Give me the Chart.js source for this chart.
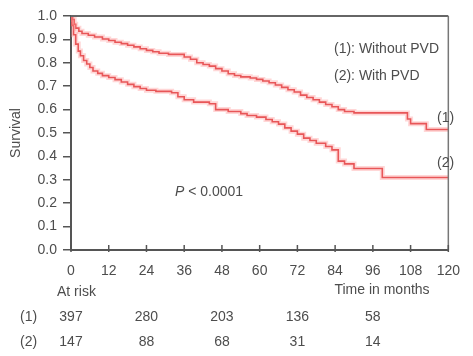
<!DOCTYPE html>
<html lang="en">
  <head>
    <meta charset="UTF-8">
    <title>Survival by PVD</title>
    <script src="https://cdn.jsdelivr.net/npm/chart.js"></script>
    <style>
      html, body {
        margin: 0;
        padding: 0;
        background: #fff;
      }
      #wrap {
        width: 473px;
        height: 356px;
      }
    </style>
  </head>
  <body>
    <div id="wrap">
      <canvas id="kmChart" width="473" height="356"></canvas>
    </div>
    <script>
      // Kaplan-Meier curves (months, survival)
      const months1 = [0, 0.5, 1, 1.5, 2.5, 3.5, 5.5, 7.5, 10, 12, 14, 16, 18, 20, 22, 24, 26, 28, 31, 36, 38, 40, 42, 44, 46, 48, 50, 52, 54, 57, 59, 61, 63, 65, 67, 69, 71, 73, 75, 77, 79, 81, 83, 85, 87, 90, 107, 108, 113, 120];
      const survival1 = [1.0, 0.985, 0.965, 0.948, 0.935, 0.925, 0.918, 0.91, 0.902, 0.895, 0.888, 0.882, 0.875, 0.868, 0.86, 0.853, 0.847, 0.841, 0.836, 0.825, 0.815, 0.8, 0.793, 0.786, 0.775, 0.765, 0.753, 0.746, 0.74, 0.735, 0.729, 0.722, 0.715, 0.705, 0.695, 0.685, 0.675, 0.662, 0.652, 0.642, 0.632, 0.622, 0.612, 0.6, 0.592, 0.586, 0.56, 0.54, 0.515, 0.515];

      const months2 = [0, 0.3, 0.8, 1.5, 2.3, 3, 4, 5, 6, 7, 8.5, 10, 12, 14, 16, 18, 20, 22, 24, 27, 32, 34, 36, 39, 44, 46, 50, 54, 56, 59, 62, 64, 66, 68, 70, 72, 74, 76, 78, 81, 83, 85, 87, 90, 99, 120];
      const survival2 = [1.0, 0.96, 0.92, 0.88, 0.85, 0.83, 0.81, 0.795, 0.78, 0.765, 0.755, 0.745, 0.737, 0.728, 0.718, 0.708, 0.698, 0.69, 0.683, 0.678, 0.672, 0.655, 0.642, 0.632, 0.625, 0.6, 0.592, 0.583, 0.575, 0.568, 0.558, 0.548, 0.538, 0.522, 0.508, 0.495, 0.478, 0.468, 0.456, 0.442, 0.428, 0.38, 0.368, 0.348, 0.31, 0.31];

      // numbers at risk
      const riskMonths = [0, 24, 48, 72, 96];
      const atRisk1 = [397, 280, 203, 136, 58];
      const atRisk2 = [147, 88, 68, 31, 14];

      const xTicks = [0, 12, 24, 36, 48, 60, 72, 84, 96, 108, 120];

      const textColor = '#4d4d4d';
      const axisColor = '#555';
      const lineRed = '#dc3a3d';
      const glowRed = 'rgba(255, 140, 140, 0.35)';

      function toPoints(xs, ys) {
        return xs.map((x, i) => ({ x: x, y: ys[i] }));
      }

      // text, borders and the inward x ticks
      const extrasPlugin = {
        id: 'extras',
        afterDraw(chart) {
          const ctx = chart.ctx;
          const area = chart.chartArea;
          const xs = chart.scales.x;
          ctx.save();

          // top and right frame
          ctx.strokeStyle = '#666';
          ctx.lineWidth = 2;
          ctx.beginPath();
          ctx.moveTo(area.left, area.top);
          ctx.lineTo(area.right, area.top);
          ctx.stroke();
          ctx.lineWidth = 1.5;
          ctx.strokeStyle = '#777';
          ctx.beginPath();
          ctx.moveTo(area.right, area.top);
          ctx.lineTo(area.right, area.bottom);
          ctx.stroke();

          // x ticks pointing up into the plot
          ctx.strokeStyle = axisColor;
          ctx.lineWidth = 1.5;
          xTicks.forEach(t => {
            const px = xs.getPixelForValue(t);
            ctx.beginPath();
            ctx.moveTo(px, area.bottom - 5);
            ctx.lineTo(px, area.bottom + 2);
            ctx.stroke();
          });

          ctx.fillStyle = textColor;
          ctx.textBaseline = 'middle';

          // y axis title
          ctx.save();
          ctx.translate(16, 133);
          ctx.rotate(-Math.PI / 2);
          ctx.textAlign = 'center';
          ctx.font = '14px "Liberation Sans", Arial, sans-serif';
          ctx.fillText('Survival', 0, 0);
          ctx.restore();

          ctx.font = '14px "Liberation Sans", Arial, sans-serif';
          ctx.textAlign = 'left';
          ctx.fillText('(1): Without PVD', 334, 49);
          ctx.fillText('(2): With PVD', 334, 76);
          ctx.fillText('(1)', 437, 118);
          ctx.fillText('(2)', 437, 163);
          ctx.fillText('At risk', 57, 292);
          ctx.fillText('(1)', 20, 317);
          ctx.fillText('(2)', 20, 342);
          ctx.textAlign = 'center';
          ctx.fillText('Time in months', 382, 290);

          // P value with italic P
          ctx.textAlign = 'left';
          ctx.font = 'italic 14px "Liberation Sans", Arial, sans-serif';
          ctx.fillText('P', 175, 192);
          const pw = ctx.measureText('P').width;
          ctx.font = '14px "Liberation Sans", Arial, sans-serif';
          ctx.fillText(' < 0.0001', 175 + pw, 192);

          // numbers at risk under the ticks
          ctx.textAlign = 'center';
          riskMonths.forEach((m, i) => {
            const px = xs.getPixelForValue(m);
            ctx.fillText(String(atRisk1[i]), px, 317);
            ctx.fillText(String(atRisk2[i]), px, 342);
          });

          ctx.restore();
        }
      };

      const ctx = document.getElementById('kmChart').getContext('2d');
      const kmChart = new Chart(ctx, {
        type: 'line',
        data: {
          datasets: [
            {
              // soft halo under curve 1
              data: toPoints(months1, survival1),
              borderColor: glowRed,
              borderWidth: 5,
              stepped: true,
              pointRadius: 0,
              fill: false
            },
            {
              data: toPoints(months2, survival2),
              borderColor: glowRed,
              borderWidth: 5,
              stepped: true,
              pointRadius: 0,
              fill: false
            },
            {
              label: '(1): Without PVD',
              data: toPoints(months1, survival1),
              borderColor: lineRed,
              borderWidth: 1.6,
              stepped: true,
              pointRadius: 0,
              fill: false
            },
            {
              label: '(2): With PVD',
              data: toPoints(months2, survival2),
              borderColor: lineRed,
              borderWidth: 1.6,
              stepped: true,
              pointRadius: 0,
              fill: false
            }
          ]
        },
        options: {
          responsive: false,
          animation: false,
          layout: {
            padding: { left: 0, top: 16, right: 15, bottom: 0 }
          },
          plugins: {
            legend: { display: false },
            tooltip: { enabled: false }
          },
          scales: {
            x: {
              type: 'linear',
              min: 0,
              max: 120,
              afterFit: scale => { scale.height = 106; },
              afterBuildTicks: scale => {
                scale.ticks = xTicks.map(v => ({ value: v }));
              },
              grid: { drawOnChartArea: false, drawTicks: false },
              border: { display: true, color: axisColor, width: 2 },
              ticks: {
                color: textColor,
                padding: 13,
                maxRotation: 0,
                autoSkip: false,
                font: { family: '"Liberation Sans", Arial, sans-serif', size: 14 }
              }
            },
            y: {
              min: 0,
              max: 1,
              afterFit: scale => { scale.width = 71; },
              grid: { drawOnChartArea: false, tickLength: 8, color: axisColor, lineWidth: 1.5 },
              border: { display: true, color: axisColor, width: 2 },
              ticks: {
                stepSize: 0.1,
                color: textColor,
                padding: 6,
                callback: v => v.toFixed(1),
                font: { family: '"Liberation Sans", Arial, sans-serif', size: 14 }
              }
            }
          }
        },
        plugins: [extrasPlugin]
      });
    </script>
  </body>
</html>
